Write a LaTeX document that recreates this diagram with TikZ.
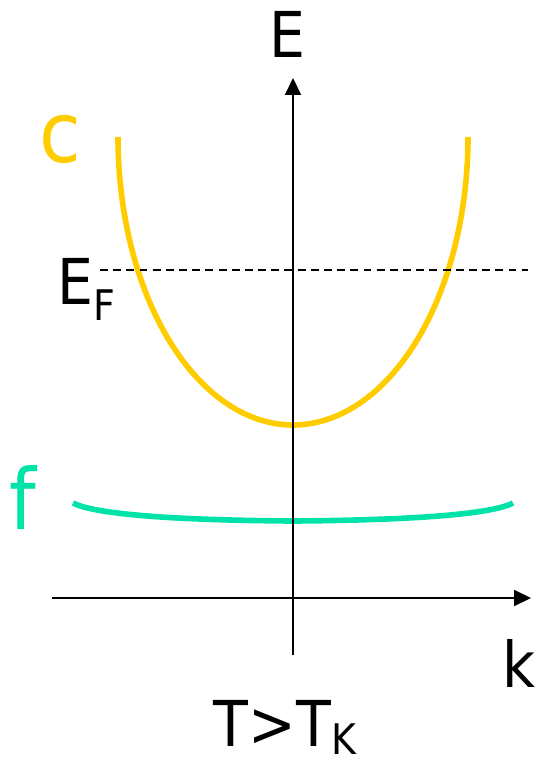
\documentclass[tikz,border=0pt]{standalone}
\usepackage{fontspec}
\setmainfont{DejaVu Sans Condensed}
\definecolor{bandyellow}{HTML}{FFCC00}
\definecolor{bandteal}{HTML}{00E3A8}
\usetikzlibrary{arrows.meta}

\begin{document}
\begin{tikzpicture}[x=0.02cm, y=-0.02cm,
    axis/.style={-{Triangle[length=0.34cm, width=0.32cm]}, line width=1.1pt},
    band/.style={draw=#1, line width=3.2pt},
    fermi/.style={dash pattern=on 4.5pt off 3pt, line width=0.85pt},
    lbl/.style={inner sep=0, anchor=base, font=\fontsize{36}{40}\selectfont},
    bandlbl/.style={inner sep=0, anchor=base, text=#1, font=\fontsize{48}{54}\selectfont},
]
    \useasboundingbox (0,0) rectangle (535,763);

    % Bands
    \draw[band=bandyellow] plot[domain=180:360, samples=90, smooth] ({293+175*cos(\x)}, {137-288*sin(\x)});
    \draw[band=bandteal] (73,503) .. controls (90,512) and (150,520) .. (293,521)
        .. controls (436,520) and (496,512) .. (513,503);

    % Fermi level
    \coordinate (efl) at (100,270);
    \coordinate (efr) at (528,270);
    \draw[fermi] (efl) -- (efr);

    % Axes
    \coordinate (kbot) at (293,655);
    \coordinate (etop) at (293,78);
    \coordinate (kleft) at (52,598);
    \coordinate (kright) at (531,598);
    \draw[axis] (kbot) -- (etop);
    \draw[axis] (kleft) -- (kright);

    % Labels
    \node[lbl] (elbl) at (287,58) {E};
    \node[lbl] (klbl) at (519,687) {k};
    \node[lbl, anchor=base west] (eflbl) at (57,304) {E\raisebox{-0.34cm}{\fontsize{24}{28}\selectfont F}};
    \node[lbl] (temp) at (285,746) {T>T\raisebox{-0.17cm}{\fontsize{24}{28}\selectfont K}};
    \node[bandlbl=bandyellow] (clbl) at (60,163) {c};
    \node[bandlbl=bandteal] (flbl) at (23,529) {f};
\end{tikzpicture}
\end{document}
